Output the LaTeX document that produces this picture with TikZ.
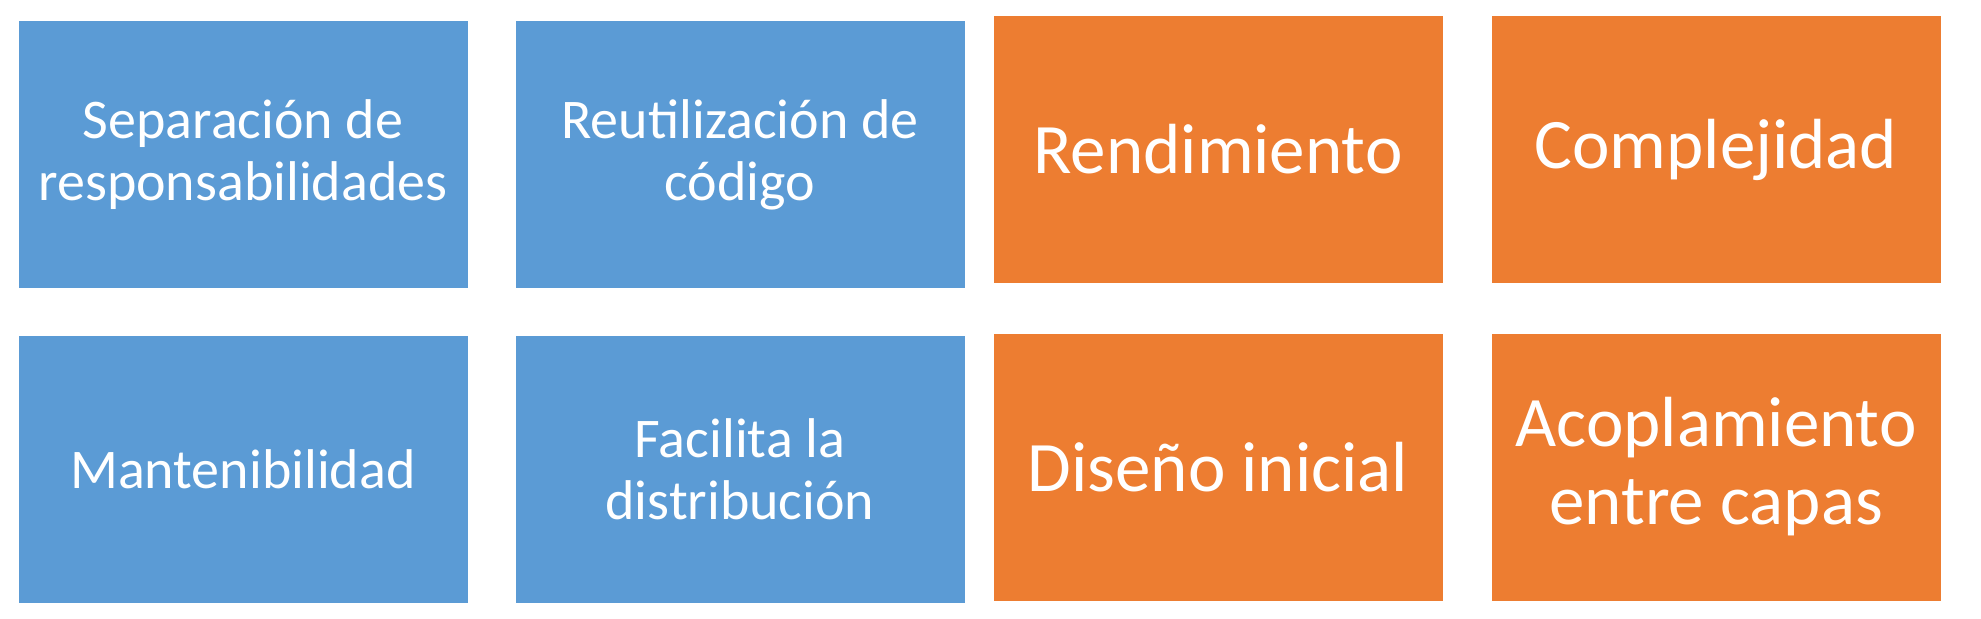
\documentclass[tikz,border=0pt]{standalone}
\usepackage{fontspec}
\setmainfont{Carlito}
\usepackage{xcolor}
\usepackage{tikz}
\usetikzlibrary{positioning}

\definecolor{problue}{HTML}{5B9BD5}
\definecolor{conorange}{HTML}{ED7D31}

\begin{document}
\begin{tikzpicture}[x=0.5pt, y=-0.5pt,
    card/.style={minimum width=224.5pt, minimum height=133.5pt, inner sep=0pt, text=white, align=center},
    pro/.style={card, fill=problue, font=\fontsize{28}{31}\selectfont},
    con/.style={card, fill=conorange, font=\fontsize{35.5}{39}\selectfont}]
    \useasboundingbox (0,0) rectangle (1981,618);

    % ventajas
    \node (sep) at (243, 154.5) [pro] {Separación de\\responsabilidades};
    \node (reu) at (740, 154.5) [pro] {Reutilización de\\código};
    \node (man) at (243, 469.5) [pro] {Mantenibilidad};
    \node (dis) at (740, 469.5) [pro] {Facilita la\\distribución};

    % desventajas
    \node (ren) at (1218, 149.5) [con] {Rendimiento};
    \node (com) at (1716, 149.5) [con] {Complejidad};
    \node (dsi) at (1218, 467) [con] {Diseño inicial};
    \node (aco) at (1716, 467) [con] {Acoplamiento\\entre capas};
\end{tikzpicture}
\end{document}
